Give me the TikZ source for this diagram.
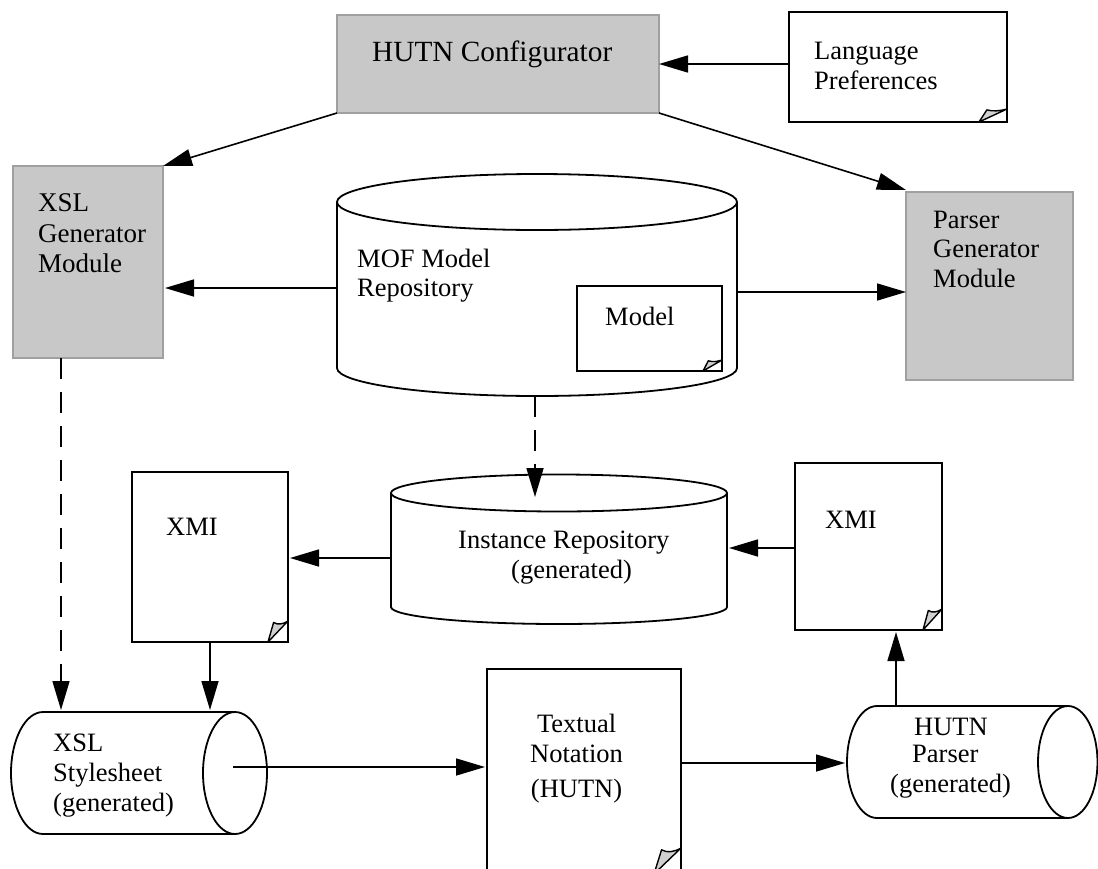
\documentclass[tikz,border=0pt]{standalone}
\usepackage{fontspec}
\setmainfont{Liberation Serif}
\usetikzlibrary{arrows.meta,calc}
\definecolor{panel}{HTML}{C8C8C8}
\definecolor{panelline}{HTML}{A0A0A0}
\definecolor{foldfill}{HTML}{D0D0D0}
\tikzset{
  x=1pt,y=-1pt,
  module/.style={draw=panelline,fill=panel,line width=1.6pt,anchor=north west,inner sep=0pt,outer sep=0pt},
  docbox/.style={draw=black,fill=white,line width=2.8pt,anchor=north west,inner sep=0pt,outer sep=0pt},
  shapeline/.style={draw=black,fill=white,line width=1.8pt},
  anchorbox/.style={anchor=north west,inner sep=0pt,outer sep=0pt,minimum width=#1},
  lbl/.style={anchor=north west,inner sep=0pt,align=left,font=\fontsize{26.5}{30}\selectfont},
  flow/.style={draw=black,line width=1.6pt,-{Triangle[length=29pt,width=17pt]}},
  dashflow/.style={flow,dash pattern=on 21pt off 13pt},
}
% page-curl in the lower right corner of a document node: width, height
\newcommand{\fold}[3]{%
  \draw[line width=1.4pt,fill=foldfill,line join=round]
    ($(#1.south east)+(-#2,0)$) -- ($(#1.south east)+(-#2*0.72,-#3*0.93)$)
    .. controls ($(#1.south east)+(-#2*0.5,-#3*0.8)$) and ($(#1.south east)+(-#2*0.25,-#3*0.85)$) ..
    ($(#1.south east)+(0,-#3)$) -- cycle;}
\begin{document}
\begin{tikzpicture}
\useasboundingbox (0,0) rectangle (1098,868);

% modules
\node[module,minimum width=322pt,minimum height=98pt] (conf) at (337,15) {};
\node[module,minimum width=150pt,minimum height=192pt] (xslgen) at (13,166) {};
\node[module,minimum width=167pt,minimum height=188pt] (pargen) at (906,192) {};

% documents
\node[docbox,minimum width=218pt,minimum height=110pt] (lang) at (789,12) {};
\fold{lang}{28}{13}
\node[docbox,minimum width=156pt,minimum height=170pt] (xmil) at (132,472) {};
\fold{xmil}{20}{21}
\node[docbox,minimum width=147pt,minimum height=167pt] (xmir) at (795,463) {};
\fold{xmir}{19}{21}
\node[docbox,minimum width=194pt,minimum height=205pt] (txt) at (487,669) {};
\fold{txt}{27}{26}

% MOF repository
\path[shapeline] (337,202) arc[start angle=180,end angle=360,x radius=200,y radius=28]
  -- (737,368) arc[start angle=0,end angle=180,x radius=200,y radius=28] -- cycle;
\draw[line width=1.8pt] (337,202) arc[start angle=180,end angle=0,x radius=200,y radius=28];
\node[anchorbox=400pt,minimum height=222pt] (mof) at (337,174) {};
\node[docbox,minimum width=145pt,minimum height=85pt] (model) at (577,286) {};
\fold{model}{19}{11}

% instance repository
\path[shapeline] (391,493) arc[start angle=180,end angle=360,x radius=168,y radius=18.5]
  -- (727,607) arc[start angle=0,end angle=180,x radius=168,y radius=17] -- cycle;
\draw[line width=1.8pt] (391,493) arc[start angle=180,end angle=0,x radius=168,y radius=18.5];
\node[anchorbox=336pt,minimum height=149pt] (inst) at (391,475) {};

% XSL stylesheet cylinder
\path[shapeline] (43,712) -- (235,712) arc[start angle=-90,end angle=90,x radius=32,y radius=61]
  -- (43,834) arc[start angle=90,end angle=270,x radius=32,y radius=61] -- cycle;
\draw[line width=1.8pt] (235,712) arc[start angle=-90,end angle=-270,x radius=32,y radius=61];
\node[anchorbox=255pt,minimum height=122pt] (xsl) at (11,712) {};

% HUTN parser cylinder
\path[shapeline] (877,706) -- (1068,706) arc[start angle=-90,end angle=90,x radius=29.5,y radius=56]
  -- (877,818) arc[start angle=90,end angle=270,x radius=30,y radius=56] -- cycle;
\draw[line width=1.8pt] (1068,706) arc[start angle=-90,end angle=-270,x radius=30,y radius=56];
\node[anchorbox=250pt,minimum height=112pt] (parser) at (847,706) {};

% labels
\node[lbl,font=\fontsize{29.3}{34}\selectfont] (tconf) at (372,41) {HUTN Configurator};
\node[lbl] (tlang) at (814,42) {Language\\Preferences};
\node[lbl,font=\fontsize{27}{30.5}\selectfont] (txslgen) at (38,193.5) {XSL\\Generator\\Module};
\node[lbl,font=\fontsize{26.5}{29.5}\selectfont] (tpargen) at (933,210.5) {Parser\\Generator\\Module};
\node[lbl,font=\fontsize{26.5}{29}\selectfont] (tmof) at (357,249) {MOF Model\\Repository};
\node[lbl] (tmodel) at (605,307) {Model};
\node[lbl] (txmil) at (166,518) {XMI};
\node[lbl] (txmir) at (825,511) {XMI};
\node[lbl] (tinst) at (458,531) {Instance Repository\\\hspace*{53pt}(generated)};
\node[lbl] (txsl) at (53,734) {XSL\\Stylesheet\\(generated)};
\node[lbl,align=center] (ttxt) at (530,714) {Textual\\Notation\\[5pt](HUTN)};
\node[lbl,font=\fontsize{26.5}{27}\selectfont] (tparser) at (890,718) {\hspace*{24pt}HUTN\\\hspace*{22pt}Parser\\[3pt](generated)};

% connectors
\draw[flow] (lang.west |- 0,64) -- (conf.east |- 0,64);
\draw[flow] (conf.south west) -- (xslgen.north east);
\draw[flow] (conf.south east) -- ($(pargen.north west)+(0,-2)$);
\draw[flow] (mof.west |- 0,288) -- ($(xslgen.east |- 0,288)+(2,0)$);
\draw[flow] (mof.east |- 0,292) -- (pargen.west |- 0,292);
\draw[dashflow] (535,396) -- (535,497);
\draw[dashflow] (61,358) -- (61,710);
\draw[flow] (inst.west |- 0,558) -- ($(xmil.east |- 0,558)+(2,0)$);
\draw[flow] (xmir.west |- 0,548) -- ($(inst.east |- 0,548)+(2,0)$);
\draw[flow] (210,642) -- (210,710);
\draw[flow] (233,767) -- ($(txt.west |- 0,767)+(-2,0)$);
\draw[flow] (txt.east |- 0,763) -- ($(parser.west |- 0,763)+(-2,0)$);
\draw[flow] (896,706) -- (896,632);
\end{tikzpicture}
\end{document}
